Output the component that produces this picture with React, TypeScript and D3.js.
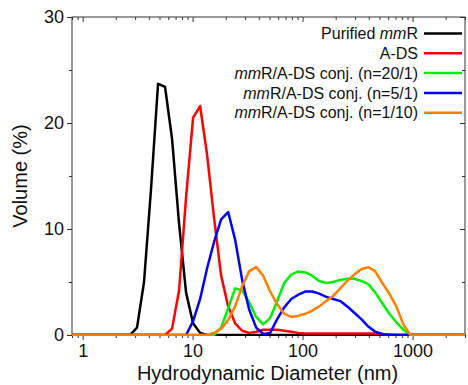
import React, { useEffect, useRef } from 'react';
import * as d3 from 'd3';

// DLS size bins (nm)
const sizeBins = [
  0.7195, 0.8332, 0.9649, 1.117, 1.294, 1.499, 1.736, 2.01, 2.328, 2.696, 3.122, 3.615, 4.187,
  4.849, 5.615, 6.503, 7.531, 8.721, 10.1, 11.7, 13.54, 15.69, 18.17, 21.04, 24.36, 28.21,
  32.67, 37.84, 43.82, 50.75, 58.77, 68.06, 78.82, 91.28, 105.7, 122.4, 141.8, 164.2, 190.1,
  220.2, 255.0, 295.3, 342.0, 396.1, 458.7, 531.2, 615.1, 712.4, 825.0, 955.4, 1106, 1281,
  1484, 1718, 1990, 2305, 2669, 3091
];

// volume (%) per bin, index 0 = 0.7195 nm
const purifiedMmR = [
  0, 0, 0, 0, 0, 0, 0, 0, 0, 0, 0.7, 5.0, 13.8,
  23.7, 23.4, 18.5, 10.5, 4.0, 1.1, 0.2, 0, 0, 0, 0, 0, 0,
  0, 0, 0, 0, 0, 0, 0, 0, 0, 0, 0, 0, 0,
  0, 0, 0, 0, 0, 0, 0, 0, 0, 0, 0, 0, 0,
  0, 0, 0, 0, 0, 0
];
const aDS = [
  0, 0, 0, 0, 0, 0, 0, 0, 0, 0, 0, 0, 0,
  0, 0, 0.6, 4.2, 13.0, 20.5, 21.6, 17.0, 11.0, 5.6, 2.7, 1.1, 0.4,
  0.2, 0.3, 0.5, 0.5, 0.5, 0.4, 0.3, 0.2, 0.15, 0.15, 0.15, 0.15, 0.15,
  0.15, 0.15, 0.15, 0.15, 0.15, 0.15, 0.1, 0.05, 0, 0, 0, 0, 0,
  0, 0, 0, 0, 0, 0
];
const conj20 = [
  0, 0, 0, 0, 0, 0, 0, 0, 0, 0, 0, 0, 0,
  0, 0, 0, 0, 0, 0, 0, 0, 0, 0.7, 2.5, 4.4, 4.2,
  3.1, 1.7, 1.0, 1.6, 3.2, 4.9, 5.7, 6.0, 5.9, 5.6, 5.1, 4.9, 5.0,
  5.2, 5.3, 5.3, 5.1, 4.8, 4.0, 3.0, 2.0, 1.2, 0.5, 0, 0, 0,
  0, 0, 0, 0, 0, 0
];
const conj5 = [
  0, 0, 0, 0, 0, 0, 0, 0, 0, 0, 0, 0, 0,
  0, 0, 0, 0, 0, 1.3, 3.4, 6.3, 8.8, 10.9, 11.6, 9.0, 5.2,
  2.4, 0.7, 0.1, 0.2, 1.5, 2.6, 3.4, 3.8, 4.1, 4.1, 3.9, 3.6, 3.4,
  3.2, 2.7, 2.1, 1.5, 0.8, 0.3, 0.1, 0, 0, 0, 0, 0, 0,
  0, 0, 0, 0, 0, 0
];
const conj110 = [
  0, 0, 0, 0, 0, 0, 0, 0, 0, 0, 0, 0, 0,
  0, 0, 0, 0, 0, 0, 0, 0, 0.2, 0.6, 1.4, 2.7, 4.6,
  6.0, 6.4, 5.6, 4.1, 2.9, 2.0, 1.7, 1.8, 2.0, 2.3, 2.7, 3.2, 3.7,
  4.4, 5.1, 5.7, 6.2, 6.4, 6.0, 4.9, 3.9, 2.7, 1.0, 0, 0, 0,
  0, 0, 0, 0, 0, 0
];

const seriesNames = [
  'Purified mmR',
  'A-DS',
  'mmR/A-DS conj. (n=20/1)',
  'mmR/A-DS conj. (n=5/1)',
  'mmR/A-DS conj. (n=1/10)'
];
const seriesValues = [purifiedMmR, aDS, conj20, conj5, conj110];
const seriesColors = ['#000000', '#ff0000', '#00ee00', '#0000ff', '#ff8000'];

const xTicks = [1, 10, 100, 1000];
const yTicks = [0, 10, 20, 30];
const yMinorTicks = [5, 15, 25];

const App: React.FC = () => {
  const svgRef = useRef<SVGSVGElement>(null);
  const width = 468;
  const height = 385;
  const margin = { top: 17, right: 3, bottom: 50, left: 72 };
  const font = 'Arial, "Liberation Sans", sans-serif';

  useEffect(() => {
    if (!svgRef.current) return;
    const svg = d3.select(svgRef.current);
    svg.selectAll('*').remove();

    const innerW = width - margin.left - margin.right;
    const innerH = height - margin.top - margin.bottom;

    const x = d3.scaleLog().domain([0.8, 3000]).range([0, innerW]);
    const y = d3.scaleLinear().domain([0, 30]).range([innerH, 0]);

    const g = svg.append('g').attr('transform', `translate(${margin.left},${margin.top})`);

    g.append('defs')
      .append('clipPath')
      .attr('id', 'plot-clip')
      .append('rect')
      .attr('width', innerW)
      .attr('height', innerH + 2)
      .attr('y', -1);

    // minor ticks on log axis: 2..9 per decade
    const logMinor: number[] = [];
    [0.1, 1, 10, 100, 1000].forEach(dec => {
      for (let k = 2; k <= 9; k++) {
        const v = dec * k;
        if (v >= 0.8 && v <= 3000) logMinor.push(v);
      }
    });

    const axisColor = '#333';

    // helper: draw a tick-only axis group
    const tickGroup = (axis: d3.Axis<any>, transform: string) => {
      const grp = g.append('g').attr('transform', transform);
      grp.call(axis);
      grp.selectAll('.domain').remove();
      grp.selectAll('line').attr('stroke', axisColor);
      return grp;
    };

    // bottom axis (outward)
    const xMajor = tickGroup(
      d3.axisBottom(x).tickValues(xTicks).tickSize(5).tickFormat(d => String(d)),
      `translate(0,${innerH})`
    );
    xMajor.selectAll('text')
      .attr('y', 9)
      .attr('fill', '#111')
      .style('font-size', '18px')
      .style('font-family', font);
    tickGroup(d3.axisBottom(x).tickValues(logMinor).tickSize(3).tickFormat(() => ''), `translate(0,${innerH})`);

    // top axis (inward)
    tickGroup(d3.axisBottom(x).tickValues(xTicks).tickSize(5).tickFormat(() => ''), 'translate(0,0)');
    tickGroup(d3.axisBottom(x).tickValues(logMinor).tickSize(3).tickFormat(() => ''), 'translate(0,0)');

    // left axis (outward)
    const yMajor = tickGroup(d3.axisLeft(y).tickValues(yTicks).tickSize(5), 'translate(0,0)');
    yMajor.selectAll('text')
      .attr('x', -8)
      .attr('fill', '#111')
      .style('font-size', '18px')
      .style('font-family', font);
    tickGroup(d3.axisLeft(y).tickValues(yMinorTicks).tickSize(3).tickFormat(() => ''), 'translate(0,0)');

    // right axis (inward)
    tickGroup(d3.axisLeft(y).tickValues(yTicks).tickSize(5).tickFormat(() => ''), `translate(${innerW},0)`);
    tickGroup(d3.axisLeft(y).tickValues(yMinorTicks).tickSize(3).tickFormat(() => ''), `translate(${innerW},0)`);

    // frame
    g.append('rect')
      .attr('width', innerW)
      .attr('height', innerH)
      .attr('fill', 'none')
      .attr('stroke', axisColor)
      .attr('stroke-width', 1);

    // curves
    const line = d3.line<number>()
      .x((_, i) => x(sizeBins[i]))
      .y(d => y(d));

    const curves = g.append('g').attr('clip-path', 'url(#plot-clip)');
    seriesValues.forEach((vals, i) => {
      curves.append('path')
        .datum(vals)
        .attr('d', line)
        .attr('fill', 'none')
        .attr('stroke', seriesColors[i])
        .attr('stroke-width', 2.5)
        .attr('stroke-linejoin', 'round');
    });

    // axis labels
    svg.append('text')
      .attr('x', margin.left + innerW / 2 - 1)
      .attr('y', 380)
      .attr('text-anchor', 'middle')
      .style('font-size', '20px')
      .style('font-family', font)
      .attr('fill', '#111')
      .text('Hydrodynamic Diameter (nm)');

    svg.append('text')
      .attr('transform', `translate(27,${margin.top + innerH / 2}) rotate(-90)`)
      .attr('text-anchor', 'middle')
      .style('font-size', '20px')
      .style('font-family', font)
      .attr('fill', '#111')
      .text('Volume (%)');

    // legend
    const legend = svg.append('g');
    seriesNames.forEach((name, i) => {
      const ly = 33.5 + i * 19.8;
      const t = legend.append('text')
        .attr('x', 418)
        .attr('y', ly)
        .attr('dy', '0.35em')
        .attr('text-anchor', 'end')
        .style('font-size', '16px')
        .style('font-family', font)
        .attr('fill', '#111');
      const idx = name.indexOf('mm');
      if (idx >= 0) {
        t.append('tspan').text(name.slice(0, idx));
        t.append('tspan').style('font-style', 'italic').text('mm');
        t.append('tspan').text(name.slice(idx + 2));
      } else {
        t.text(name);
      }
      legend.append('line')
        .attr('x1', 424)
        .attr('x2', 462)
        .attr('y1', ly)
        .attr('y2', ly)
        .attr('stroke', seriesColors[i])
        .attr('stroke-width', 2.5);
    });
  }, []);

  return (
    <svg
      ref={svgRef}
      width={width}
      height={height}
      style={{ position: 'absolute', left: 0, top: 0, background: '#fff' }}
    />
  );
};

export default App;
